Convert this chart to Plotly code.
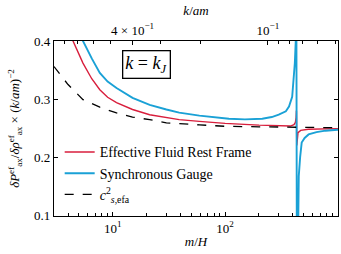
import numpy as np
import plotly.graph_objects as go

# ---- data ----
red_mH = [4.0, 4.43, 5.43, 6.5, 7.67, 9.0, 10.8, 15.0, 21.3, 30.0, 39.0, 59.0, 100.0, 200.0,
          300.0, 380.0, 410.0, 422.0, 428.0, 431.0, 434.0, 438.0, 445.0, 470.0, 550.0, 1000.0, 1100.0]
red_val = [0.43, 0.40, 0.362, 0.335, 0.316, 0.303, 0.294, 0.282, 0.273, 0.268, 0.2645, 0.2615, 0.258, 0.255,
           0.2535, 0.2535, 0.256, 0.260, 0.268, 0.28, 0.22, 0.236, 0.242, 0.246, 0.248, 0.249, 0.249]

blue_mH = [5.0, 5.43, 6.5, 7.67, 9.0, 10.8, 15.0, 21.3, 30.0, 39.0, 59.0, 108.0, 150.0, 214.0, 260.0,
           300.0, 347.0, 370.0, 395.0, 417.0, 425.0, 429.0,
           436.0, 446.0, 452.0, 465.0, 480.0, 510.0, 553.0, 650.0, 783.0, 1000.0, 1100.0]
blue_val = [0.43, 0.40, 0.37, 0.345, 0.33, 0.319, 0.302, 0.290, 0.282, 0.2765, 0.2715, 0.266, 0.265, 0.266, 0.269,
            0.273, 0.279, 0.287, 0.304, 0.362, 0.40, 0.6,
            -0.1, 0.12, 0.167, 0.20, 0.225, 0.233, 0.239, 0.243, 0.2455, 0.247, 0.2475]

cs_mH = [3.0, 4.0, 5.43, 7.67, 10.8, 15.0, 21.3, 30.0, 59.0, 100.0, 200.0, 400.0, 1100.0]
cs_val = [0.356, 0.325, 0.299, 0.286, 0.276, 0.269, 0.2645, 0.259, 0.2555, 0.253, 0.2522, 0.2512, 0.2505]

# top axis: k/am = C * (m/H)^(-1/2)
C_TOP = 1.55
top_major_k = [0.4, 0.1]
top_major_text = ["4 × 10<sup>−1</sup>", "10<sup>−1</sup>"]
top_minor_k = [0.8, 0.7, 0.6, 0.5, 0.3, 0.2, 0.09, 0.08, 0.07, 0.06, 0.05]

bottom_tickvals = [10, 100, 1000]
bottom_ticktext = ["10<sup>1</sup>", "10<sup>2</sup>", "10<sup>3</sup>"]
bottom_minor = [4, 5, 6, 7, 8, 9, 20, 30, 40, 50, 60, 70, 80, 90, 200, 300, 400, 500, 600, 700, 800, 900]
y_tickvals = [0.1, 0.2, 0.3, 0.4]

RED = "#d81e3c"
BLUE = "#1aa1d6"
FONT = "Liberation Serif, Times New Roman, DejaVu Serif, serif"

def k_to_mH(k):
    return list((C_TOP / np.asarray(k, dtype=float)) ** 2)

fig = go.Figure()
fig.add_trace(go.Scatter(x=red_mH, y=red_val, mode="lines", name="Effective Fluid Rest Frame",
                         line=dict(color=RED, width=1.4)))
fig.add_trace(go.Scatter(x=blue_mH, y=blue_val, mode="lines", name="Synchronous Gauge",
                         line=dict(color=BLUE, width=1.9)))
fig.add_trace(go.Scatter(x=cs_mH, y=cs_val, mode="lines", name="<i>c</i><sup>2</sup><sub><i>s</i>,efa</sub>",
                         line=dict(color="black", width=1.3, dash="dash")))
# invisible trace to anchor the top axis
fig.add_trace(go.Scatter(x=cs_mH, y=cs_val, xaxis="x2", mode="lines", line=dict(width=0),
                         opacity=0, showlegend=False, hoverinfo="skip"))

xr = [np.log10(3.0), np.log10(1010.0)]
fig.update_layout(
    width=341, height=254,
    margin=dict(l=54, r=3, t=41, b=38, autoexpand=False),
    paper_bgcolor="white", plot_bgcolor="white",
    font=dict(family=FONT, size=13, color="black"),
    showlegend=True,
    legend=dict(x=0.02, y=0.455, xanchor="left", yanchor="top", bgcolor="rgba(0,0,0,0)",
                font=dict(size=14, family=FONT), tracegroupgap=0, itemwidth=30),
    xaxis=dict(type="log", range=xr, showline=True, linecolor="black", linewidth=1.2,
               mirror=False, ticks="inside", ticklen=4, tickcolor="black", automargin=False,
               tickmode="array", tickvals=bottom_tickvals, ticktext=bottom_ticktext,
               showgrid=False, zeroline=False,
               minor=dict(ticks="inside", ticklen=2.5, tickcolor="black", tickmode="array",
                          tickvals=bottom_minor, showgrid=False),
               title=dict(text="<i>m</i>/<i>H</i>", font=dict(size=13), standoff=2),
               tickfont=dict(size=13)),
    xaxis2=dict(type="log", range=xr, overlaying="x", side="top", showline=True, automargin=False,
                linecolor="black", linewidth=1.2, ticks="inside", ticklen=4, tickcolor="black",
                tickmode="array", tickvals=k_to_mH(top_major_k), ticktext=top_major_text,
                minor=dict(ticks="inside", ticklen=2.5, tickcolor="black", tickmode="array",
                           tickvals=k_to_mH(top_minor_k), showgrid=False),
                showgrid=False, zeroline=False,
                title=dict(text="<i>k</i>/<i>am</i>", font=dict(size=13), standoff=2),
                tickfont=dict(size=13)),
    yaxis=dict(range=[0.0985, 0.4], showline=True, linecolor="black", linewidth=1.2, automargin=False,
               mirror="ticks", ticks="inside", ticklen=4, tickcolor="black",
               tickvals=y_tickvals, ticktext=["0.1", "0.2", "0.3", "0.4"],
               showgrid=False, zeroline=False, tickfont=dict(size=13),
               title=dict(text="<i>δP</i><sup>ef</sup><sub>ax</sub>/<i>δρ</i><sup>ef</sup><sub>ax</sub> × (<i>k</i>/<i>am</i>)<sup>−2</sup>",
                          font=dict(size=13), standoff=11)),
    annotations=[dict(text="<i>k</i> = <i>k</i><sub><i>J</i></sub>", xref="paper", yref="paper",
                      x=0.327, y=0.863, xanchor="center", yanchor="middle", showarrow=False,
                      font=dict(size=18, family=FONT),
                      bordercolor="black", borderwidth=1.3, borderpad=2, bgcolor="white")],
)

fig.write_html("out.html", config={"displayModeBar": False},
               post_script="document.body.style.margin='0';document.body.style.padding='0';")
